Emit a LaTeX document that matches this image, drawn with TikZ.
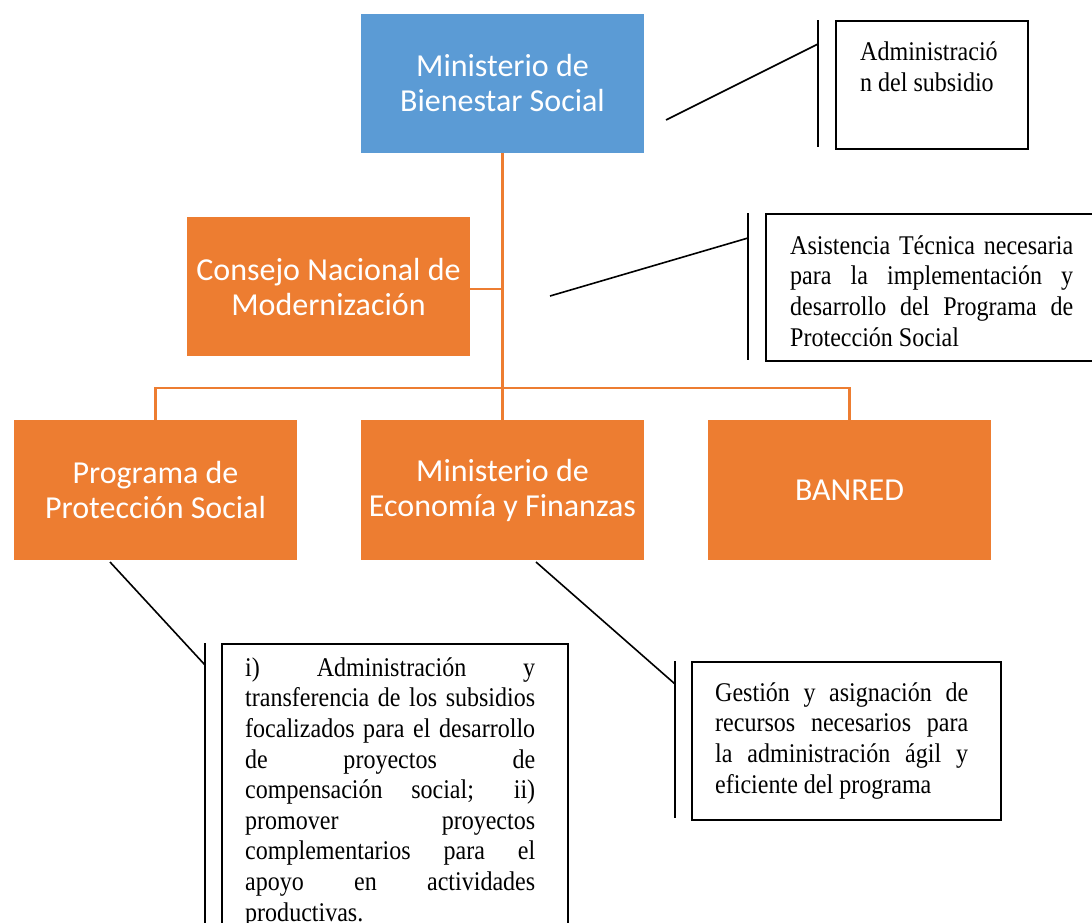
\documentclass[tikz,border=0pt]{standalone}
\usepackage{fontspec}
\newfontfamily\boxfont{Carlito}
\newfontfamily\callfont[FakeStretch=0.89]{Liberation Serif}
\newcommand\jl[2]{\makebox[#1][s]{#2}}
\definecolor{blueb}{HTML}{5B9BD5}
\definecolor{orangeb}{HTML}{ED7D31}
\tikzset{
  orgbox/.style={rectangle, fill=orangeb, draw=none, minimum width=283pt, minimum height=139pt, inner sep=0pt,
    text=white, align=center, font=\boxfont\fontsize{32}{35}\selectfont},
  conn/.style={draw=orangeb, line width=2.4pt},
  callbox/.style={rectangle, draw=black, line width=1.5pt, fill=none, inner sep=0pt},
  calltext/.style={inner sep=0pt, anchor=north west, align=left, font=\callfont\fontsize{27}{30.6}\selectfont},
  bar/.style={draw=black, line width=2pt},
  lead/.style={draw=black, line width=1.6pt}
}
\begin{document}
\begin{tikzpicture}[x=1pt,y=-1pt]
\clip (0,0) rectangle (1092,922);
\useasboundingbox (0,0) rectangle (1092,922);
\fill[white] (0,0) rectangle (1092,922);

% main boxes
\node[orgbox, fill=blueb] (mbs) at (502.5,83.5) {Ministerio de\\Bienestar Social};
\node[orgbox] (cnm) at (328.5,286.5) {Consejo Nacional de\\Modernización};
\node[orgbox, minimum height=140pt] (pps) at (155.5,490) {Programa de\\Protección Social};
\node[orgbox, minimum height=140pt] (mef) at (502.5,490) {Ministerio de\\Economía y Finanzas};
\node[orgbox, minimum height=140pt] (ban) at (849.5,490) {BANRED};

% connectors
\coordinate (hub) at (502.5,388);
\draw[conn] (mbs.south) -- (mef.north);
\draw[conn] (cnm.east |- 0,289) -- (502.5,289);
\draw[conn] (pps.north) |- (hub) -| (ban.north);

% callout 1
\node[callbox, minimum width=192pt, minimum height=128pt, anchor=north west] (c1) at (835,20) {};
\coordinate (b1t) at (818,20); \coordinate (b1b) at (818,147);
\coordinate (b1j) at (818,44); \coordinate (l1s) at (666,120);
\draw[bar] (b1t) -- (b1b);
\draw[lead] (l1s) -- (b1j);
\node[calltext, text width=170pt] (t1) at (860,38.7) {\spaceskip=0pt\xspaceskip=0pt\noindent\rule{0pt}{22pt}Administració\\n del subsidio};

% callout 2
\node[callbox, minimum width=330pt, minimum height=147pt, anchor=north west] (c2) at (765,213) {};
\coordinate (b2t) at (748,213); \coordinate (b2b) at (748,360);
\coordinate (b2j) at (748,238); \coordinate (l2s) at (550,296);
\draw[bar] (b2t) -- (b2b);
\draw[lead] (l2s) -- (b2j);
\node[calltext, text width=283pt] (t2) at (790,232) {\spaceskip=0pt\xspaceskip=0pt\noindent\rule{0pt}{22pt}\jl{283pt}{Asistencia Técnica necesaria}\\
\jl{283pt}{para la implementación y}\\
\jl{283pt}{desarrollo del Programa de}\\
Protección Social};

% callout 3
\node[callbox, minimum width=346pt, minimum height=320pt, anchor=north west] (c3) at (221,643) {};
\coordinate (b3t) at (205,643); \coordinate (b3b) at (205,940);
\coordinate (b3j) at (205,665); \coordinate (l3s) at (110,562);
\draw[bar] (b3t) -- (b3b);
\draw[lead] (l3s) -- (b3j);
\node[calltext, text width=290pt] (t3) at (245,654) {\spaceskip=0pt\xspaceskip=0pt\noindent\rule{0pt}{22pt}\jl{290pt}{i) Administración y}\\
\jl{290pt}{transferencia de los subsidios}\\
\jl{290pt}{focalizados para el desarrollo}\\
\jl{290pt}{de proyectos de}\\
\jl{290pt}{compensación social; ii)}\\
\jl{290pt}{promover proyectos}\\
\jl{290pt}{complementarios para el}\\
\jl{290pt}{apoyo en actividades}\\
productivas.};

% callout 4
\node[callbox, minimum width=309pt, minimum height=158pt, anchor=north west] (c4) at (691,661) {};
\coordinate (b4t) at (675,661); \coordinate (b4b) at (675,818);
\coordinate (b4j) at (675,684); \coordinate (l4s) at (536,562);
\draw[bar] (b4t) -- (b4b);
\draw[lead] (l4s) -- (b4j);
\node[calltext, text width=253pt] (t4) at (715,679) {\spaceskip=0pt\xspaceskip=0pt\noindent\rule{0pt}{22pt}\jl{253pt}{Gestión y asignación de}\\
\jl{253pt}{recursos necesarios para}\\
\jl{253pt}{la administración ágil y}\\
eficiente del programa};
\end{tikzpicture}
\end{document}
